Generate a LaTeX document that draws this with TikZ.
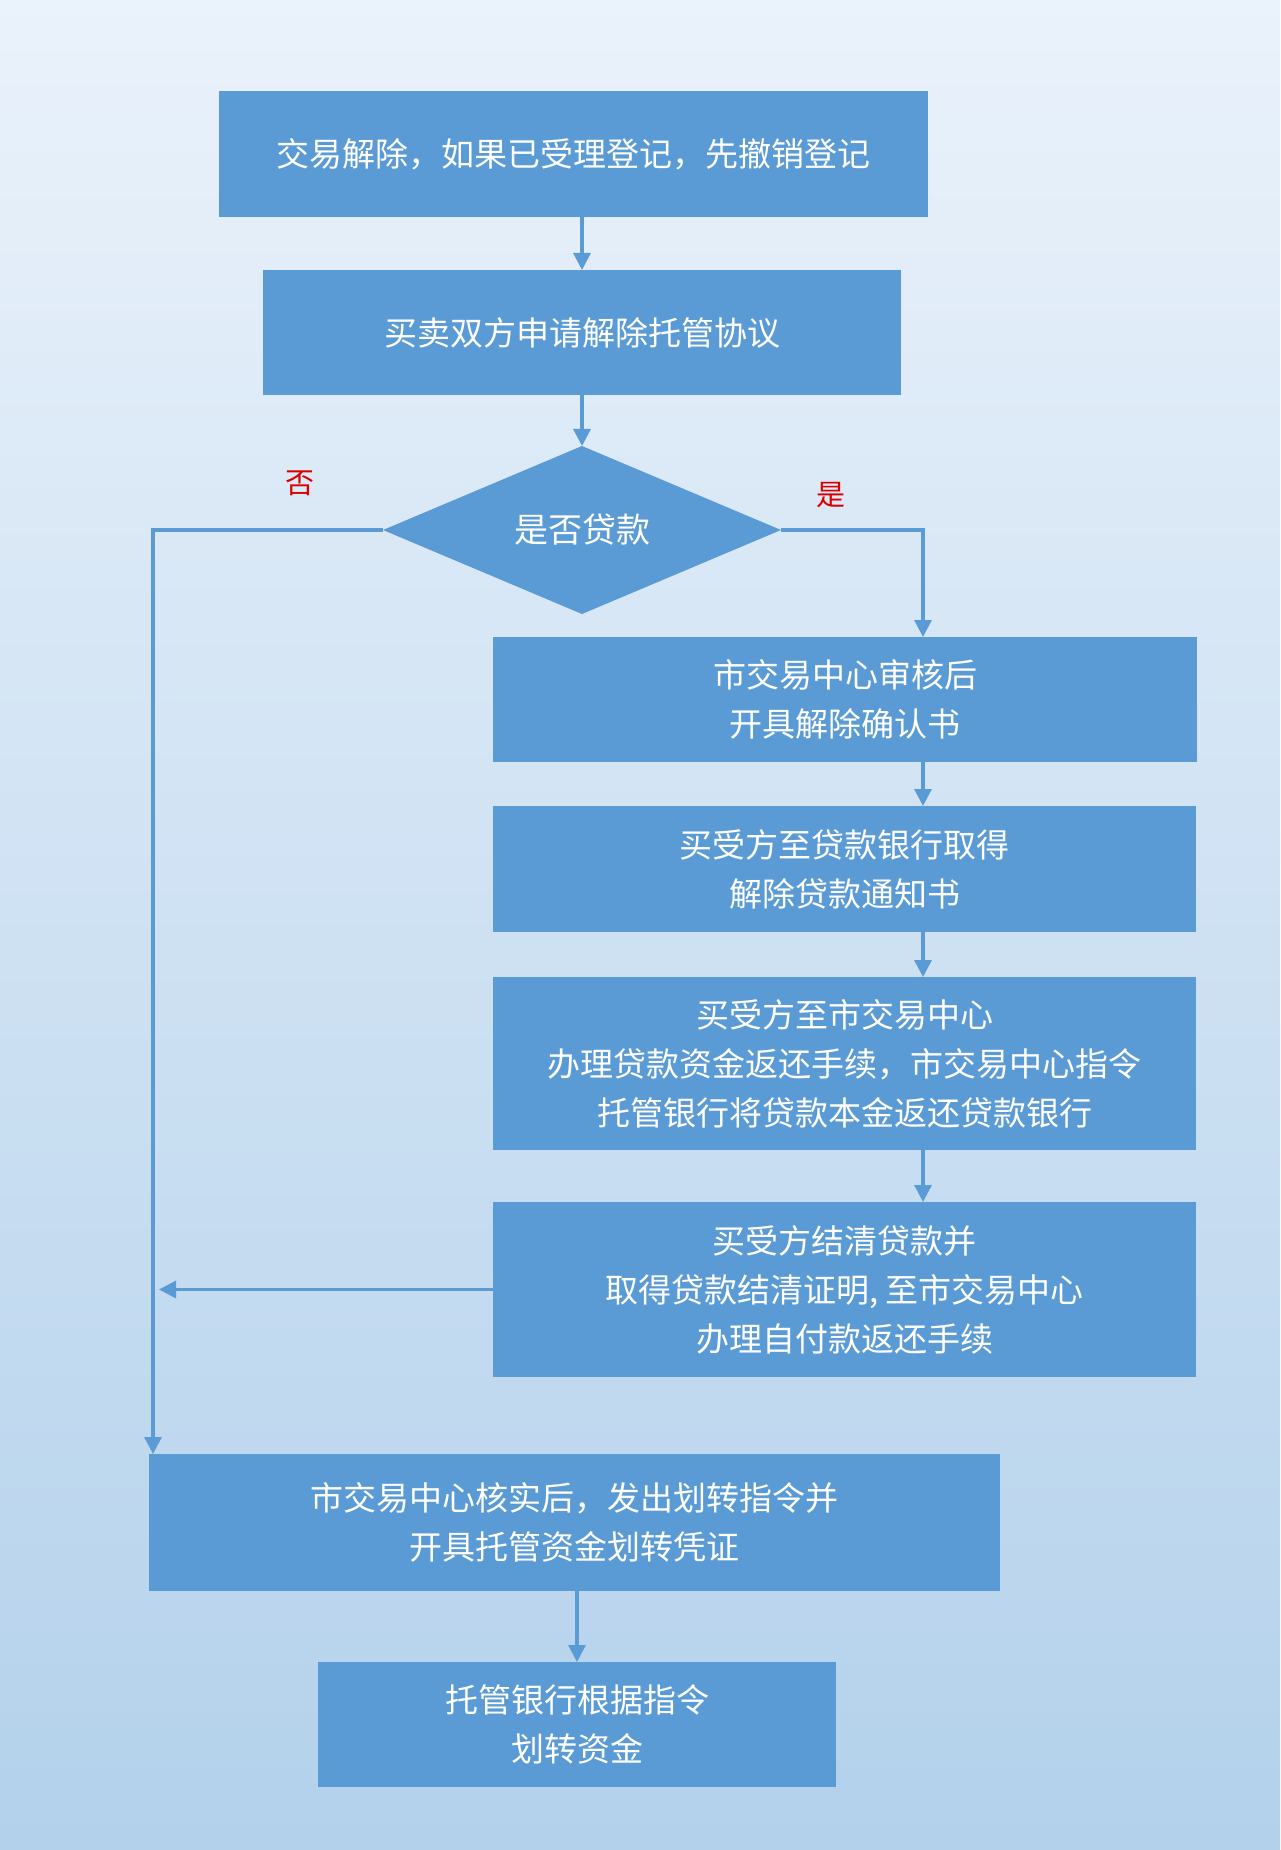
\documentclass[tikz,border=0pt]{standalone}
\usepackage{fontspec}
\setmainfont{Noto Sans CJK SC}
\usetikzlibrary{shapes.geometric,arrows.meta}
\definecolor{boxblue}{RGB}{91,155,213}
\definecolor{bgtop}{RGB}{234,242,251}
\definecolor{bgbottom}{RGB}{179,209,235}
\definecolor{labelred}{RGB}{218,0,0}
\tikzset{
    stepbox/.style={fill=boxblue, text=white, align=center, inner sep=0pt, outer sep=0pt,
        font=\fontsize{16.5}{24.5}\selectfont},
    decision/.style={diamond, fill=boxblue, text=white, inner sep=0pt, outer sep=0pt,
        font=\fontsize{17}{24}\selectfont},
    flow/.style={draw=boxblue, line width=1.6pt, -{Triangle[length=8.5pt,width=8.5pt]}},
    answer/.style={text=labelred, font=\fontsize{14.5}{16}\selectfont}
}

\begin{document}
\begin{tikzpicture}[x=0.5pt,y=-0.5pt]
    % background
    \shade[top color=bgtop, bottom color=bgbottom] (0,0) rectangle (1280,1850);
    \node[stepbox, minimum width=354.5pt, minimum height=63pt] (cancel) at (573.5,154) {交易解除，如果已受理登记，先撤销登记};
    \node[stepbox, minimum width=319pt, minimum height=62.5pt] (apply) at (582,332.5) {买卖双方申请解除托管协议};
    \node[decision, minimum width=199pt, minimum height=84pt] (loan) at (582,530) {是否贷款};
    \node[answer] (nolabel) at (300,483) {否};
    \node[answer] (yeslabel) at (831,495) {是};
    \node[stepbox, minimum width=352pt, minimum height=62.5pt] (confirm) at (845,699.5) {市交易中心审核后\\开具解除确认书};
    \node[stepbox, minimum width=351.5pt, minimum height=63pt] (notice) at (844.5,869) {买受方至贷款银行取得\\解除贷款通知书};
    \node[stepbox, minimum width=351.5pt, minimum height=86.5pt] (refund) at (844.5,1063.5) {买受方至市交易中心\\办理贷款资金返还手续，市交易中心指令\\托管银行将贷款本金返还贷款银行};
    \node[stepbox, minimum width=351.5pt, minimum height=87.5pt] (settle) at (844.5,1289.5) {买受方结清贷款并\\取得贷款结清证明, 至市交易中心\\办理自付款返还手续};
    \node[stepbox, minimum width=425.5pt, minimum height=68.5pt] (verify) at (574.5,1522.5) {市交易中心核实后，发出划转指令并\\开具托管资金划转凭证};
    \node[stepbox, minimum width=259pt, minimum height=62.5pt] (transfer) at (577,1724.5) {托管银行根据指令\\划转资金};
    % branch rails
    \coordinate (noside) at (153,530);
    \coordinate (yesside) at (923,530);
    \draw[flow] (cancel.south -| apply.north) -- (apply.north);
    \draw[flow] (apply.south) -- (loan.north);
    \draw[flow] (loan.east) -- (yesside) -- (confirm.north -| yesside);
    \draw[flow] (confirm.south -| yesside) -- (notice.north -| yesside);
    \draw[flow] (notice.south -| yesside) -- (refund.north -| yesside);
    \draw[flow] (refund.south -| yesside) -- (settle.north -| yesside);
    \draw[flow] (loan.west) -- (noside) -- (verify.north -| noside);
    \draw[flow] (settle.west) -- ([xshift=3pt]noside |- settle.west);
    \draw[flow] (verify.south -| transfer.north) -- (transfer.north);
\end{tikzpicture}
\end{document}
